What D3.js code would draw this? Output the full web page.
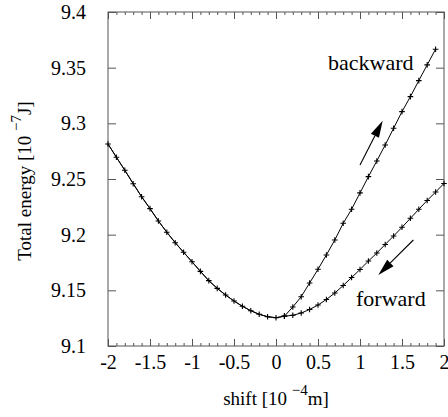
<!DOCTYPE html>
<html>
<head>
<meta charset="utf-8">
<script src="https://cdn.jsdelivr.net/npm/d3@7"></script>
<style>
  html, body { margin: 0; padding: 0; background: #fff; }
  svg { display: block; }
  svg text { font-family: "Liberation Serif", "Times New Roman", "DejaVu Serif", serif !important; fill: #000; }
</style>
</head>
<body>
<svg id="chart" width="448" height="417"></svg>
<script>
// ---- data ----
const commonShift = [-2.0, -1.9, -1.8, -1.7, -1.6, -1.5, -1.4, -1.3, -1.2, -1.1, -1.0,
                     -0.9, -0.8, -0.7, -0.6, -0.5, -0.4, -0.3, -0.2, -0.1, 0.0];
const commonEnergy = [9.2815, 9.2695, 9.2579, 9.2458, 9.2341, 9.2234, 9.2123, 9.2022, 9.1928, 9.1842, 9.1757,
                      9.1670, 9.1587, 9.1518, 9.1458, 9.1404, 9.1357, 9.1317, 9.1285, 9.1263, 9.1254];

const backwardShift = [0.1, 0.2, 0.3, 0.4, 0.5, 0.6, 0.7, 0.8, 0.9, 1.0,
                       1.1, 1.2, 1.3, 1.4, 1.5, 1.6, 1.7, 1.8, 1.9];
const backwardEnergy = [9.1268, 9.1350, 9.1443, 9.1566, 9.1689, 9.1818, 9.1952, 9.2102, 9.2228, 9.2375,
                        9.2521, 9.2662, 9.2806, 9.2956, 9.3105, 9.3240, 9.3384, 9.3525, 9.3666];

const forwardShift = [0.1, 0.2, 0.3, 0.4, 0.5, 0.6, 0.7, 0.8, 0.9, 1.0,
                      1.1, 1.2, 1.3, 1.4, 1.5, 1.6, 1.7, 1.8, 1.9, 2.0];
const forwardEnergy = [9.1268, 9.1276, 9.1296, 9.1328, 9.1368, 9.1418, 9.1476, 9.1543, 9.1615, 9.1687,
                       9.1763, 9.1835, 9.1912, 9.1988, 9.2066, 9.2147, 9.2228, 9.2307, 9.2383, 9.2460];

const xTickValues = [-2, -1.5, -1, -0.5, 0, 0.5, 1, 1.5, 2];
const xTickLabels = ["-2", "-1.5", "-1", "-0.5", "0", "0.5", "1", "1.5", "2"];
const yTickValues = [9.1, 9.15, 9.2, 9.25, 9.3, 9.35, 9.4];
const yTickLabels = ["9.1", "9.15", "9.2", "9.25", "9.3", "9.35", "9.4"];

// ---- layout ----
const margin = { left: 108, right: 4, top: 12, bottom: 71 };
const W = 448, H = 417;
const svg = d3.select("#chart");

const x = d3.scaleLinear().domain([-2, 2]).range([margin.left, W - margin.right]);
const y = d3.scaleLinear().domain([9.1, 9.4]).range([H - margin.bottom, margin.top]);

const frameColor = "#555";
const fontSize = 20;
const serif = "'Liberation Serif', 'Times New Roman', serif";

// minor ticks (every 0.1 on x)
const minorX = d3.range(-20, 21).map(i => i / 10).filter(v => !xTickValues.some(t => Math.abs(t - v) < 1e-9));

function styleAxis(g) {
  g.select(".domain").remove();
  g.attr("font-family", null);
  g.selectAll(".tick line").attr("stroke", frameColor).attr("stroke-width", 1);
}

// bottom major
svg.append("g")
  .attr("transform", `translate(0,${y(9.1)})`)
  .call(d3.axisBottom(x).tickValues(xTickValues).tickFormat((d, i) => xTickLabels[i])
        .tickSizeInner(-7).tickSizeOuter(0).tickPadding(9))
  .call(styleAxis)
  .call(g => g.selectAll("text").attr("font-size", fontSize).style("font-family", serif));

// bottom minor
svg.append("g")
  .attr("transform", `translate(0,${y(9.1)})`)
  .call(d3.axisBottom(x).tickValues(minorX).tickFormat("").tickSizeInner(-3).tickSizeOuter(0))
  .call(styleAxis);

// top major + minor (mirror)
svg.append("g")
  .attr("transform", `translate(0,${y(9.4)})`)
  .call(d3.axisTop(x).tickValues(xTickValues).tickFormat("").tickSizeInner(-7).tickSizeOuter(0))
  .call(styleAxis);
svg.append("g")
  .attr("transform", `translate(0,${y(9.4)})`)
  .call(d3.axisTop(x).tickValues(minorX).tickFormat("").tickSizeInner(-3).tickSizeOuter(0))
  .call(styleAxis);

// left major
svg.append("g")
  .attr("transform", `translate(${x(-2)},0)`)
  .call(d3.axisLeft(y).tickValues(yTickValues).tickFormat((d, i) => yTickLabels[i])
        .tickSizeInner(-8).tickSizeOuter(0).tickPadding(22))
  .call(styleAxis)
  .call(g => g.selectAll("text").attr("font-size", fontSize).style("font-family", serif));

// right mirror
svg.append("g")
  .attr("transform", `translate(${x(2)},0)`)
  .call(d3.axisRight(y).tickValues(yTickValues).tickFormat("").tickSizeInner(-8).tickSizeOuter(0))
  .call(styleAxis);

// frame
svg.append("rect")
  .attr("x", x(-2)).attr("y", y(9.4))
  .attr("width", x(2) - x(-2)).attr("height", y(9.1) - y(9.4))
  .attr("fill", "none").attr("stroke", frameColor).attr("stroke-width", 1);

// ---- curves ----
const line = d3.line().x(d => x(d[0])).y(d => y(d[1]));
const common = commonShift.map((s, i) => [s, commonEnergy[i]]);
const backward = backwardShift.map((s, i) => [s, backwardEnergy[i]]);
const forward = forwardShift.map((s, i) => [s, forwardEnergy[i]]);

const plot = svg.append("g");
plot.append("path").datum(common.concat(backward))
  .attr("d", line).attr("fill", "none").attr("stroke", "#000").attr("stroke-width", 1);
plot.append("path").datum(common.concat(forward))
  .attr("d", line).attr("fill", "none").attr("stroke", "#000").attr("stroke-width", 1);

const allPts = common.concat(backward, forward);
const ms = 2.8;
plot.selectAll("path.mark").data(allPts).enter().append("path")
  .attr("class", "mark")
  .attr("d", d => `M${x(d[0]) - ms},${y(d[1])}h${2 * ms}M${x(d[0])},${y(d[1]) - ms}v${2 * ms}`)
  .attr("stroke", "#000").attr("stroke-width", 1.1).attr("fill", "none");

// ---- annotations ----
function arrow(x1, y1, x2, y2) {
  const ang = Math.atan2(y2 - y1, x2 - x1);
  const hl = 17, hw = 4.5;
  const bx = x2 - hl * Math.cos(ang), by = y2 - hl * Math.sin(ang);
  plot.append("line").attr("x1", x1).attr("y1", y1).attr("x2", bx).attr("y2", by)
    .attr("stroke", "#000").attr("stroke-width", 1.1);
  const px = -Math.sin(ang) * hw, py = Math.cos(ang) * hw;
  plot.append("path")
    .attr("d", `M${x2},${y2}L${bx + px},${by + py}L${bx - px},${by - py}Z`)
    .attr("fill", "#000");
}
// backward arrow (data coordinates)
arrow(x(1.0), y(9.2626), x(1.27), y(9.3024));
// forward arrow
arrow(x(1.635), y(9.1952), x(1.218), y(9.1638));

svg.append("text").attr("x", 328).attr("y", 70).attr("font-size", 22).style("font-family", serif).text("backward");
svg.append("text").attr("x", 356).attr("y", 306).attr("font-size", 22).style("font-family", serif).text("forward");

// axis titles
const xt = svg.append("text").attr("x", x(0)).attr("y", 405).attr("text-anchor", "middle")
  .attr("font-size", 19).style("font-family", serif);
xt.append("tspan").text("shift [10 ");
xt.append("tspan").attr("dy", -10).attr("font-size", 15).text("\u22124");
xt.append("tspan").attr("dy", 10).text("m]");

const yt = svg.append("text").attr("transform", `translate(31,${y(9.25) + 2}) rotate(-90)`)
  .attr("text-anchor", "middle").attr("font-size", 19).style("font-family", serif);
yt.append("tspan").text("Total energy [10 ");
yt.append("tspan").attr("dy", -10).attr("font-size", 15).text("\u22127");
yt.append("tspan").attr("dy", 10).text("J]");
</script>
</body>
</html>
